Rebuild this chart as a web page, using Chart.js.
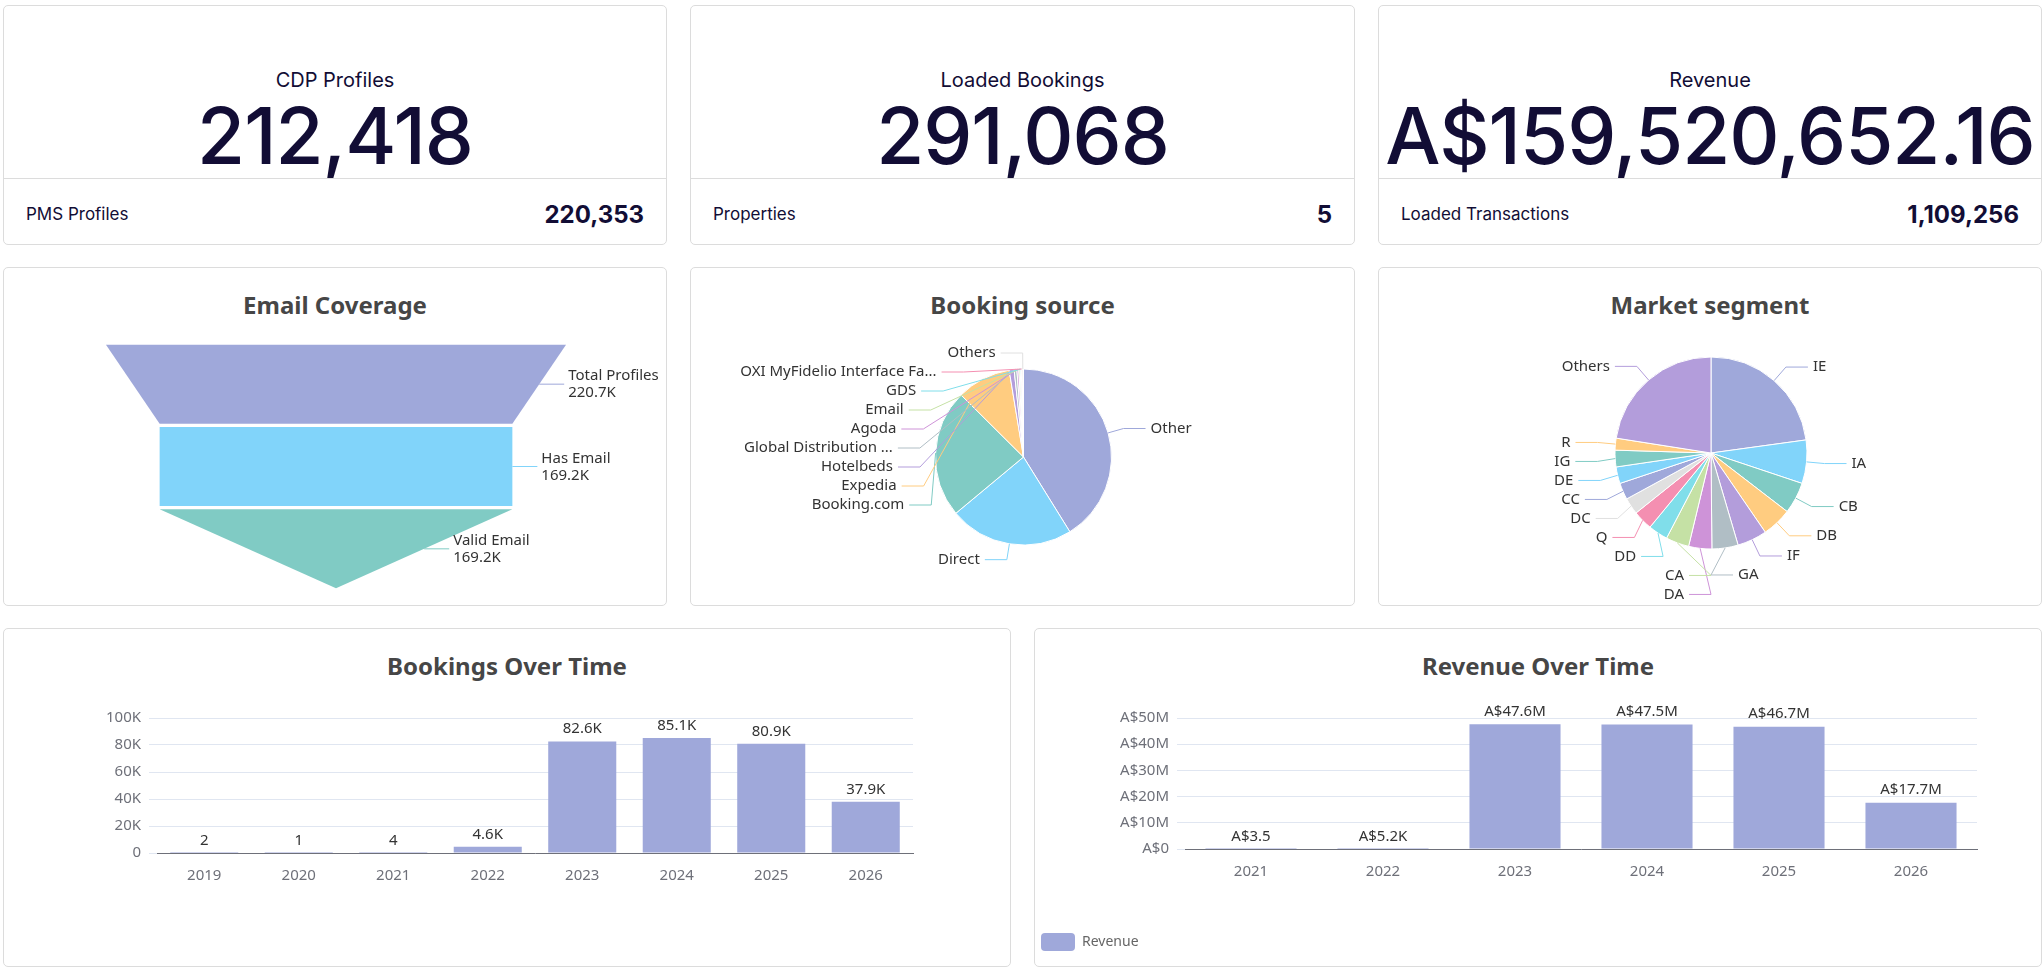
<!DOCTYPE html>
<html><head><meta charset="utf-8">
<script src="https://cdn.jsdelivr.net/npm/chart.js@4"></script>
<style>
body{margin:0;background:#fff;width:2044px;height:969px;position:relative;overflow:hidden;font-family:"Noto Sans","Open Sans",sans-serif}
.card{position:absolute;border:1px solid #dcdcdc;border-radius:5px;box-sizing:border-box;overflow:hidden;background:#fff}
.kt{position:absolute;left:0;right:0;text-align:center;font-family:Inter,sans-serif;color:#120d35}
.kt.t{top:62px;font-size:20px}
.kt.n{top:82px;font-size:78px;font-weight:500;letter-spacing:-1px}
.sep{position:absolute;left:0;right:0;top:172px;border-top:1px solid #dcdcdc}
.bl{position:absolute;left:22px;top:198px;font-family:Inter,sans-serif;font-size:17px;color:#120d35}
.bv{position:absolute;right:22px;top:194px;font-family:Inter,sans-serif;font-size:24px;font-weight:700;color:#120d35}
.ct{position:absolute;left:0;right:0;text-align:center;font-size:24px;font-weight:700;color:#464646;top:20px}
canvas{position:absolute}
</style></head><body>
<div class="card" style="left:3px;top:5px;width:664px;height:240px"><div class="kt t">CDP Profiles</div><div class="kt n">212,418</div><div class="sep"></div><div class="bl">PMS Profiles</div><div class="bv">220,353</div></div>
<div class="card" style="left:690px;top:5px;width:665px;height:240px"><div class="kt t">Loaded Bookings</div><div class="kt n">291,068</div><div class="sep"></div><div class="bl">Properties</div><div class="bv">5</div></div>
<div class="card" style="left:1378px;top:5px;width:664px;height:240px"><div class="kt t">Revenue</div><div class="kt n">A$159,520,652.16</div><div class="sep"></div><div class="bl">Loaded Transactions</div><div class="bv">1,109,256</div></div>

<div class="card" style="left:3px;top:267px;width:664px;height:339px"><div class="ct">Email Coverage</div><canvas id="funnel" width="670" height="247" style="left:-3px;top:75px"></canvas></div>
<div class="card" style="left:690px;top:267px;width:665px;height:339px"><div class="ct">Booking source</div><canvas id="pie1" width="665" height="290" style="left:0;top:44px"></canvas></div>
<div class="card" style="left:1378px;top:267px;width:664px;height:339px"><div class="ct">Market segment</div><canvas id="pie2" width="664" height="300" style="left:0;top:35px"></canvas></div>

<div class="card" style="left:3px;top:628px;width:1008px;height:339px"><div class="ct">Bookings Over Time</div><canvas id="bar1" width="1000" height="190" style="left:0;top:72px"></canvas></div>
<div class="card" style="left:1034px;top:628px;width:1008px;height:339px"><div class="ct">Revenue Over Time</div><canvas id="bar2" width="1000" height="260" style="left:0;top:72px"></canvas></div>

<script>
const funnelLabels=["Total Profiles","Has Email","Valid Email"];
const funnelValues=[220.7,169.2,169.2];
const bookingLabels=["Other","Direct","Booking.com","Expedia","Hotelbeds","Global Distribution ...","Agoda","Email","GDS","OXI MyFidelio Interface Fa...","Others"];
const bookingValues=[41.0,22.7,23.4,9.9,0.9,0.5,0.35,0.25,0.2,0.15,0.25];
const marketLabels=["IE","IA","CB","DB","IF","GA","DA","CA","DD","Q","DC","CC","DE","IG","R","Others"];
const marketValues=[22.8,7.3,5.3,5.0,5.0,4.4,3.9,3.9,3.3,3.3,2.8,2.8,2.8,2.8,2.0,22.5];
const bookingYears=["2019","2020","2021","2022","2023","2024","2025","2026"];
const bookingCounts=[2,1,4,4600,82600,85100,80900,37900];
const revenueYears=["2021","2022","2023","2024","2025","2026"];
const revenueValues=[3.5,5200,47600000,47500000,46700000,17700000];

const pal=["#9fa8da","#81d4fa","#80cbc4","#ffcc80","#b39ddb","#b0bec5","#ce93d8","#c5e1a5","#80deea","#f48fb1","#e0e0e0"];
const marketColors=["#9fa8da","#81d4fa","#80cbc4","#ffcc80","#b39ddb","#b0bec5","#ce93d8","#c5e1a5","#80deea","#f48fb1","#e0e0e0","#9fa8da","#81d4fa","#80cbc4","#ffcc80","#b39ddb"];
const FONT='"Noto Sans","Open Sans",sans-serif';

// Funnel
const funnelColors=["#9fa8da","#81d4fa","#80cbc4"];
new Chart(document.getElementById('funnel'),{type:'bar',
 data:{labels:funnelLabels,datasets:[{data:funnelValues.map(v=>[-v/2,v/2]),backgroundColor:'rgba(0,0,0,0)',barPercentage:0.96,categoryPercentage:1}]},
 options:{indexAxis:'y',responsive:false,animation:false,layout:{padding:0},
  plugins:{legend:{display:false},tooltip:{enabled:false}},
  scales:{x:{display:false,min:-160.7,max:160.7},y:{display:false}}},
 plugins:[{id:'fun',afterDatasetsDraw(c){
  const ctx=c.ctx,xs=c.scales.x,meta=c.getDatasetMeta(0);
  meta.data.forEach((b,i)=>{
   const top=b.y-b.height/2,bot=b.y+b.height/2;
   const w1=funnelValues[i]/2,w2=i<funnelValues.length-1?funnelValues[i+1]/2:0;
   ctx.fillStyle=funnelColors[i];ctx.beginPath();
   ctx.moveTo(xs.getPixelForValue(-w1),top);ctx.lineTo(xs.getPixelForValue(w1),top);
   ctx.lineTo(xs.getPixelForValue(w2),bot);ctx.lineTo(xs.getPixelForValue(-w2),bot);ctx.closePath();ctx.fill();
   const ex=xs.getPixelForValue((w1+w2)/2);
   ctx.strokeStyle=funnelColors[i];ctx.lineWidth=1;ctx.beginPath();ctx.moveTo(ex,b.y);ctx.lineTo(ex+25,b.y);ctx.stroke();
   ctx.fillStyle='#333';ctx.font='15px '+FONT;ctx.textAlign='left';ctx.textBaseline='middle';
   ctx.fillText(funnelLabels[i],ex+29,b.y-8);ctx.fillText(funnelValues[i].toFixed(1)+'K',ex+29,b.y+9);
  });}}]});

function outsideLabels(gap,L){return {id:'ol',afterDatasetsDraw(c){
 const ctx=c.ctx,meta=c.getDatasetMeta(0),labels=c.data.labels,cols=c.data.datasets[0].backgroundColor;
 const items=meta.data.map((a,i)=>{const m=(a.startAngle+a.endAngle)/2;return{i,m,cx:a.x,cy:a.y,r:a.outerRadius,side:Math.cos(m)>=0?1:-1,y:a.y+(a.outerRadius+L)*Math.sin(m)}});
 [1,-1].forEach(s=>{const g=items.filter(o=>o.side===s).sort((p,q)=>p.y-q.y);
  for(let k=1;k<g.length;k++){if(g[k].y<g[k-1].y+gap)g[k].y=g[k-1].y+gap;}});
 ctx.font='15px '+FONT;ctx.textBaseline='middle';
 items.forEach(o=>{const R2=o.r+L,dy=o.y-o.cy;const dx=Math.sqrt(Math.max(0,R2*R2-dy*dy));
  const x0=o.cx+o.r*Math.cos(o.m),y0=o.cy+o.r*Math.sin(o.m);
  const x1=o.cx+o.side*dx,x2=x1+o.side*22;
  ctx.strokeStyle=cols[o.i];ctx.lineWidth=1;ctx.beginPath();ctx.moveTo(x0,y0);ctx.lineTo(x1,o.y);ctx.lineTo(x2,o.y);ctx.stroke();
  ctx.fillStyle='#333';ctx.textAlign=o.side>0?'left':'right';ctx.fillText(labels[o.i],x2+o.side*5,o.y);});
}}}

new Chart(document.getElementById('pie1'),{type:'pie',
 data:{labels:bookingLabels,datasets:[{data:bookingValues,backgroundColor:pal,borderColor:'#fff',borderWidth:1}]},
 options:{responsive:false,animation:false,radius:88,plugins:{legend:{display:false},tooltip:{enabled:false}}},
 plugins:[outsideLabels(19,16)]});

new Chart(document.getElementById('pie2'),{type:'pie',
 data:{labels:marketLabels,datasets:[{data:marketValues,backgroundColor:marketColors,borderColor:'#fff',borderWidth:1}]},
 options:{responsive:false,animation:false,radius:96,plugins:{legend:{display:false},tooltip:{enabled:false}}},
 plugins:[outsideLabels(19,18)]});

function valueLabels(fmt){return{id:'vl',afterDatasetsDraw(c){const ctx=c.ctx;ctx.font='15px '+FONT;ctx.fillStyle='#333';ctx.textAlign='center';ctx.textBaseline='bottom';
 c.getDatasetMeta(0).data.forEach((b,i)=>ctx.fillText(fmt(c.data.datasets[0].data[i]),b.x,b.y-5));}}}
const kfmt=v=>v<1000?String(v):(v/1000).toFixed(1)+'K';
const afmt=v=>v>=1e6?'A$'+(v/1e6).toFixed(1)+'M':v>=1000?'A$'+(v/1000).toFixed(1)+'K':'A$'+v;
const tickFont={size:15,family:FONT};
function barOpts(max,step,tickCb,yW,padR,legend){return{responsive:false,animation:false,layout:{padding:{top:14,right:padR}},
 plugins:{legend:legend,tooltip:{enabled:false}},
 scales:{x:{grid:{display:false},border:{color:'#6e7079'},ticks:{color:'#6e7079',font:tickFont,padding:6}},
  y:{min:0,max:max,ticks:{stepSize:step,color:'#6e7079',font:tickFont,callback:tickCb,padding:8},grid:{color:'#e0e6f1'},border:{display:false},afterFit:s=>{s.width=yW}}}}}

new Chart(document.getElementById('bar1'),{type:'bar',
 data:{labels:bookingYears,datasets:[{label:'Bookings',data:bookingCounts,backgroundColor:'#9fa8da',barPercentage:0.72,categoryPercentage:1}]},
 options:barOpts(100000,20000,v=>v===0?'0':(v/1000)+'K',153,91,{display:false}),plugins:[valueLabels(kfmt)]});

const o2=barOpts(50000000,10000000,v=>v===0?'A$0':'A$'+(v/1e6)+'M',150,58,{display:true,position:'bottom',align:'start',labels:{boxWidth:34,boxHeight:18,useBorderRadius:true,borderRadius:4,color:'#666',font:{size:14,family:FONT},padding:6}});
o2.scales.x.afterFit=s=>{s.height+=40};
new Chart(document.getElementById('bar2'),{type:'bar',
 data:{labels:revenueYears,datasets:[{label:'Revenue',data:revenueValues,backgroundColor:'#9fa8da',barPercentage:0.69,categoryPercentage:1}]},
 options:o2,plugins:[valueLabels(afmt)]});
</script></body></html>
